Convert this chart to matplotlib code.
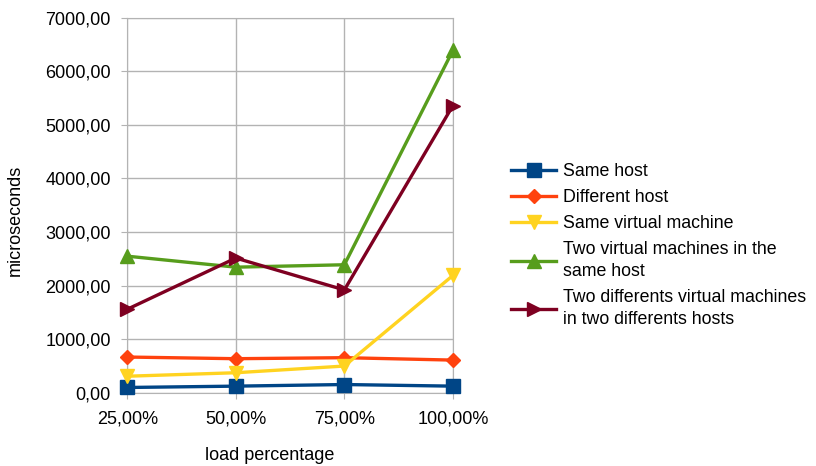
import matplotlib

matplotlib.use("Agg")
import matplotlib.pyplot as plt

plt.rcParams['font.family'] = ['Liberation Sans', 'DejaVu Sans']

loads = ["25,00%", "50,00%", "75,00%", "100,00%"]
same_host = [100, 125, 155, 125]
different_host = [668, 637, 656, 611]
same_vm = [310, 375, 500, 2190]
two_vms_same_host = [2550, 2345, 2390, 6390]
two_vms_two_hosts = [1560, 2515, 1920, 5360]

series = [
    ("Same host", same_host, "#004586", "s"),
    ("Different host", different_host, "#ff420e", "D"),
    ("Same virtual machine", same_vm, "#ffd320", "v"),
    ("Two virtual machines in the\nsame host", two_vms_same_host, "#579d1c", "^"),
    ("Two differents virtual machines\nin two differents hosts", two_vms_two_hosts, "#7e0021", ">"),
]

fig = plt.figure(figsize=(8.16, 4.66), dpi=100)
ax = fig.add_axes([0.156, 0.157, 0.399, 0.805])

x = range(len(loads))
for name, vals, color, mk in series:
    ms = 7.5 if mk == "D" else 10
    ax.plot(x, vals, color=color, lw=2.4, marker=mk, ms=ms, label=name, clip_on=False, zorder=3)

ax.set_xlim(0, len(loads) - 1)
ax.set_ylim(0, 7000)
ax.set_xticks(list(x))
ax.set_xticklabels(loads)
ax.set_yticks(range(0, 7001, 1000))
ax.set_yticklabels(["{:.2f}".format(v).replace(".", ",") for v in range(0, 7001, 1000)])
ax.grid(True, color="#b3b3b3", lw=1)
ax.set_axisbelow(True)
for s in ax.spines:
    ax.spines[s].set_color("#b3b3b3")
ax.tick_params(colors="#b3b3b3", labelcolor="black", labelsize=13, length=4)
ax.tick_params(axis="x", pad=9)
ax.tick_params(axis="y", pad=8)
ax.set_xlabel("load percentage", fontsize=13)
ax.set_ylabel("microseconds", fontsize=13)
# the labels sit a bit off the axes centre in the original
ax.xaxis.set_label_coords(0.436, -0.145)
ax.yaxis.set_label_coords(-0.318, 0.461)

leg = fig.legend(loc="center left", bbox_to_anchor=(0.607, 0.473), frameon=False, fontsize=12.8,
                 handlelength=2.5, handletextpad=0.4, labelspacing=0.5)
for t in leg.get_texts():
    t.set_linespacing(1.4)

fig.savefig("out.png", dpi=100)
